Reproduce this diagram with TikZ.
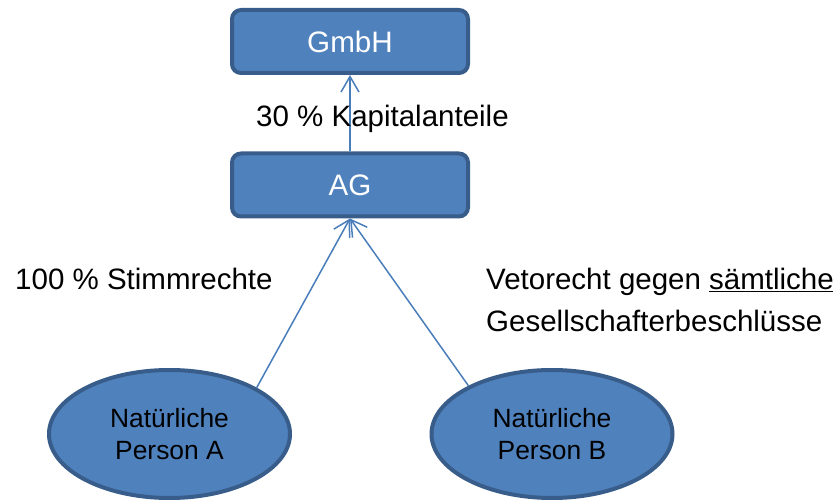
\documentclass[tikz,border=0pt]{standalone}
\usepackage{fontspec}
\setmainfont{Liberation Sans}
\usetikzlibrary{arrows.meta,shapes.geometric}
\definecolor{fillblue}{HTML}{4F81BD}
\definecolor{edgeblue}{HTML}{385D8A}
\definecolor{lineblue}{HTML}{4A7EBB}
\begin{document}
\begin{tikzpicture}[x=1pt,y=-1pt,
 box/.style={draw=edgeblue, line width=4pt, fill=fillblue, rounded corners=9pt, minimum width=236pt, minimum height=63pt, inner sep=0pt, text=white, font=\fontsize{29.6}{35}\selectfont},
 person/.style={ellipse, draw=edgeblue, line width=4pt, fill=fillblue, minimum width=241pt, minimum height=128pt, inner sep=0pt, align=center, font=\fontsize{26.4}{32.5}\selectfont},
 lbl/.style={anchor=base west, inner sep=0pt, font=\fontsize{29.5}{35}\selectfont},
 conn/.style={draw=lineblue, line width=1.5pt, -{Straight Barb[angle=60:18pt]}}]
\useasboundingbox (0,0) rectangle (833,502);
\node[box] (gmbh) at (350,41.5) {GmbH};
\node[box] (ag) at (350,185) {AG};
\node[person] (a) at (169.5,434) {Natürliche\\Person A};
\node[person] (b) at (552,434) {Natürliche\\Person B};
\draw[conn] (ag) -- (gmbh);
\draw[conn] (a.28.5) -- (ag.south);
\draw[conn] (b.150.6) -- (ag.south);
\node[lbl] (kap) at (256,127) {30 \% Kapitalanteile};
\node[lbl] (stimm) at (15,290) {100 \% Stimmrechte};
\node[lbl] (veto1) at (486,290) {Vetorecht gegen \underline{sämtliche}};
\node[lbl] (veto2) at (486,332) {Gesellschafterbeschlüsse};
\end{tikzpicture}
\end{document}
